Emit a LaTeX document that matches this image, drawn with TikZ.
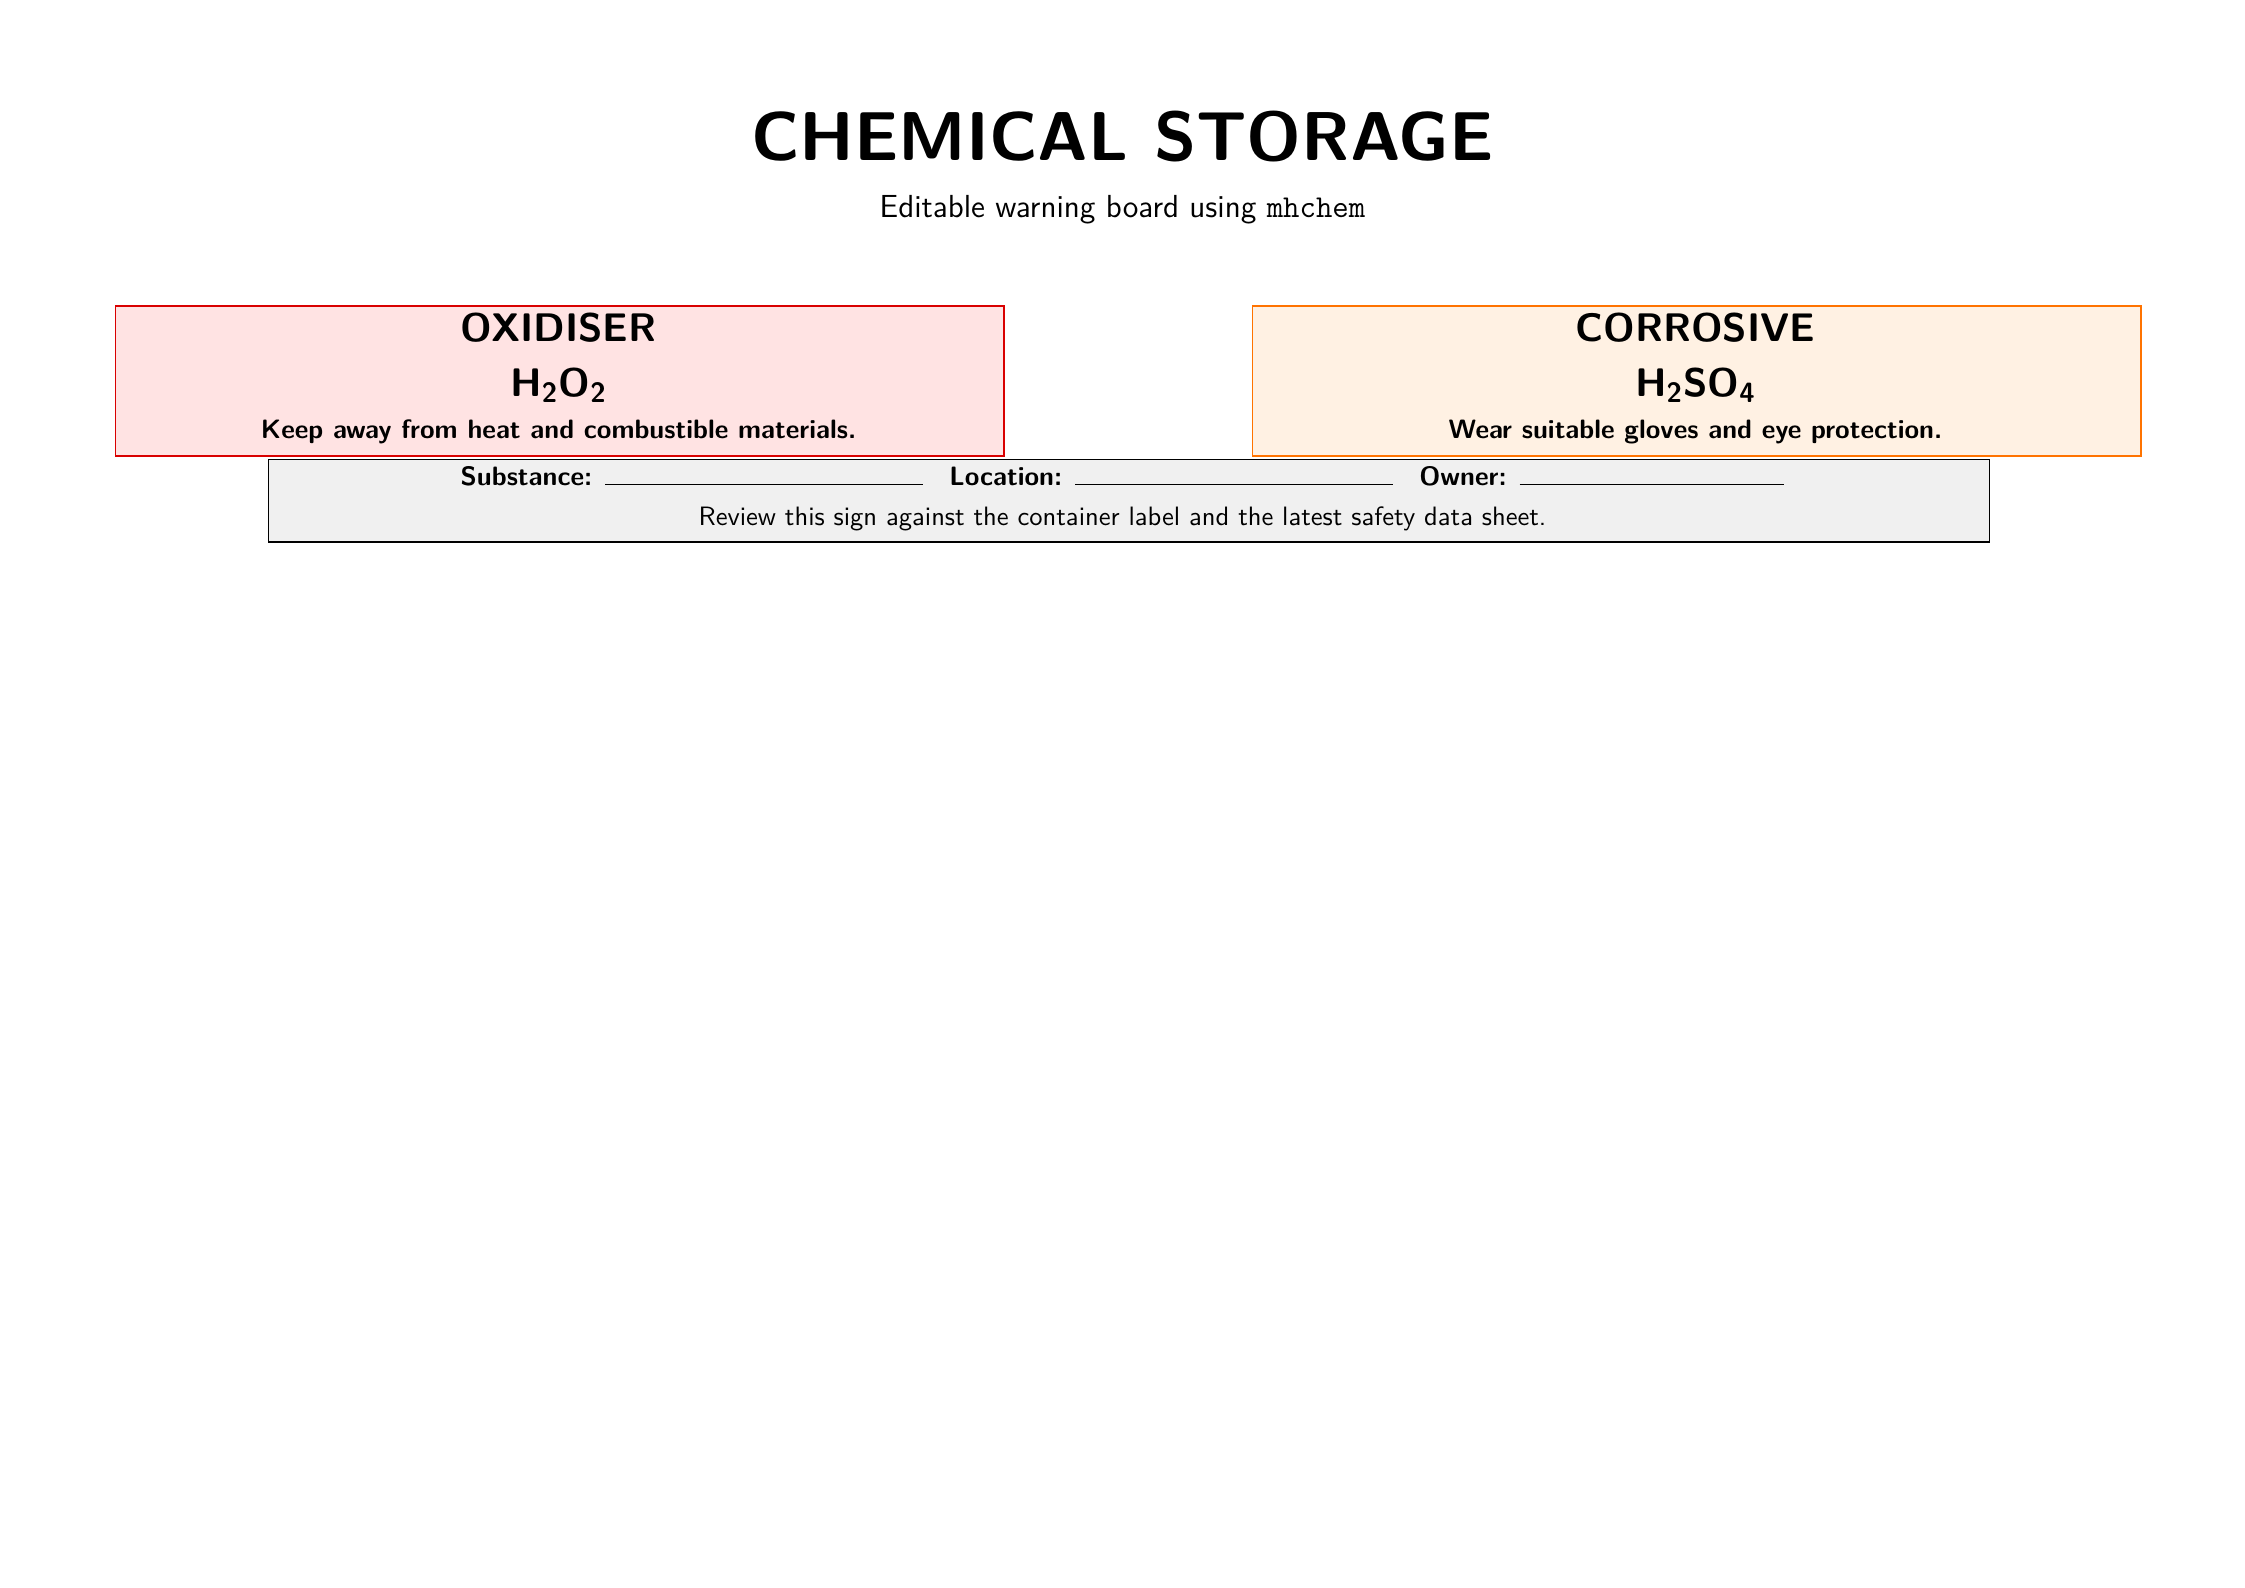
\documentclass[tikz,border=0pt]{standalone}
\usepackage[version=4]{mhchem}
\begin{document}
\begin{tikzpicture}[font=\sffamily,
  panel/.style={draw, minimum height=1.98cm, minimum width=11.75cm, anchor=north west, line width=0.6pt},
  head/.style={font=\sffamily\bfseries\fontsize{15}{18}\selectfont},
  note/.style={font=\sffamily\bfseries\fontsize{10}{12}\selectfont}]
\useasboundingbox (0,0) rectangle (29.7,-21);
\node (title) at (14.85,-1.81) {\bfseries\fontsize{26}{30}\selectfont CHEMICAL STORAGE};
\node (sub) at (14.85,-2.78) {\fontsize{12}{14}\selectfont Editable warning board using \texttt{mhchem}};
\node[panel, draw=red!85!black, fill=red!11] (ox) at (1.52,-4.04) {};
\node[head] (oxh) at (7.39,-4.33) {OXIDISER};
\node[head] (oxf) at (7.39,-5.1) {\ce{H2O2}};
\node[note] (oxn) at (7.39,-5.71) {Keep away from heat and combustible materials.};
\node[panel, draw=orange!90!red, fill=orange!11] (co) at (16.56,-4.04) {};
\node[head] (coh) at (22.43,-4.33) {CORROSIVE};
\node[head] (cof) at (22.43,-5.1) {\ce{H2SO4}};
\node[note] (con) at (22.43,-5.71) {Wear suitable gloves and eye protection.};
\node[draw, line width=0.6pt, fill=black!6, anchor=north west, minimum width=22.77cm, minimum height=1.09cm] (form) at (3.54,-6.07) {};
\node[note] (fl) at (14.85,-6.3) {Substance: \rule{4.2cm}{0.5pt}\quad Location: \rule{4.2cm}{0.5pt}\quad Owner: \rule{3.5cm}{0.5pt}};
\node (fn) at (14.85,-6.87) {\fontsize{10}{12}\selectfont Review this sign against the container label and the latest safety data sheet.};
\end{tikzpicture}
\end{document}
